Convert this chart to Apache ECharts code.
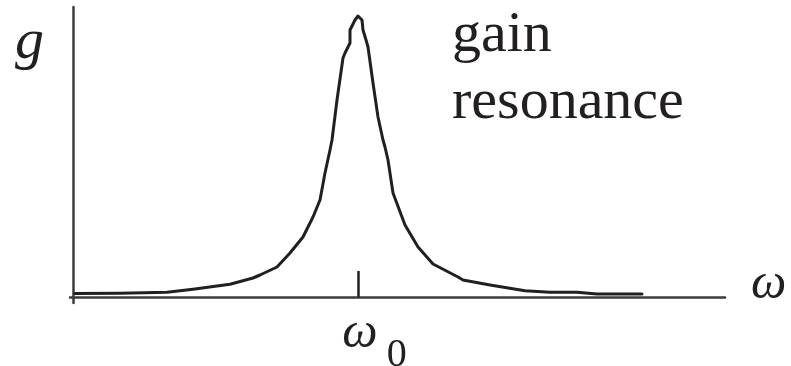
<!DOCTYPE html>
<html>
<head>
<meta charset="utf-8">
<style>
  html, body { margin: 0; padding: 0; background: #ffffff; }
  #chart { width: 791px; height: 366px; }
</style>
<script src="https://cdn.jsdelivr.net/npm/echarts@6/dist/echarts.min.js"></script>
</head>
<body>
<div id="chart"></div>
<script>
// Resonance curve: frequency offset (omega) and gain (g), in plot units
const omega = [2, 47, 94, 120, 157, 180, 187, 204, 217, 230, 240, 247, 252, 257, 259, 264, 270, 272, 277, 277,
  282, 285, 287, 289, 290, 293, 295, 300, 305, 310, 312, 315, 320, 332, 345, 360, 385, 390, 417, 452, 477, 504, 524, 569];
const gain = [3.5, 3.7, 4.7, 7.7, 12.7, 19, 22, 30, 44, 60, 80, 97, 124, 147, 157, 197, 239, 244, 254, 267,
  277, 281, 281, 277, 267, 257, 250, 214, 180, 157, 150, 137, 104, 72, 50, 33, 20, 17, 12, 6.3, 4.7, 4.7, 3, 3];
const omega0 = 285.5;            // resonance frequency, marked on the axis
const annotation = ['gain', 'resonance'];

const serif = '"Liberation Serif", "Times New Roman", serif';
const ink = '#231f20';

const chart = echarts.init(document.getElementById('chart'), null, { renderer: 'canvas' });

chart.setOption({
  backgroundColor: '#ffffff',
  animation: false,
  title: {
    text: annotation.join('\n'),
    left: 447,
    top: -3,
    textStyle: { fontFamily: serif, fontSize: 58, fontWeight: 'normal', color: ink, lineHeight: 67 }
  },
  grid: { left: 70, right: 66, top: 7, bottom: 63, containLabel: false, outerBoundsMode: 'none' },
  xAxis: {
    type: 'value',
    min: -3,
    max: 652,
    name: 'ω',
    nameLocation: 'end',
    nameGap: 26,
    nameTextStyle: { fontFamily: serif, fontStyle: 'italic', fontSize: 50, color: ink, verticalAlign: 'bottom', lineHeight: 24 },
    axisLine: { show: true, onZero: true, lineStyle: { color: '#3c3c3c', width: 2.5 } },
    axisTick: { show: true, inside: true, length: 26, customValues: [omega0], lineStyle: { color: ink, width: 2.5 } },
    axisLabel: {
      show: true,
      customValues: [omega0],
      margin: 6,
      formatter: () => '{p|}{w|ω}{s|0}',
      rich: {
        p: { width: 32 },
        w: { fontFamily: serif, fontStyle: 'italic', fontSize: 50, color: ink, verticalAlign: 'top', lineHeight: 50 },
        s: { fontFamily: serif, fontSize: 40, color: ink, verticalAlign: 'top', lineHeight: 40, padding: [26, 0, 0, 9] }
      }
    },
    splitLine: { show: false }
  },
  yAxis: {
    type: 'value',
    min: -6,
    max: 290,
    axisLine: { show: true, onZero: true, lineStyle: { color: '#3c3c3c', width: 2.5 } },
    axisTick: { show: false },
    axisLabel: { show: false },
    splitLine: { show: false }
  },
  graphic: [{
    type: 'text',
    left: 15,
    top: 14,
    style: { text: 'g', font: 'italic 58px ' + serif, fill: ink }
  }],
  series: [{
    type: 'line',
    data: omega.map((w, i) => [w, gain[i]]),
    showSymbol: false,
    smooth: false,
    lineStyle: { color: ink, width: 3, join: 'round', cap: 'round' }
  }]
});
</script>
</body>
</html>
